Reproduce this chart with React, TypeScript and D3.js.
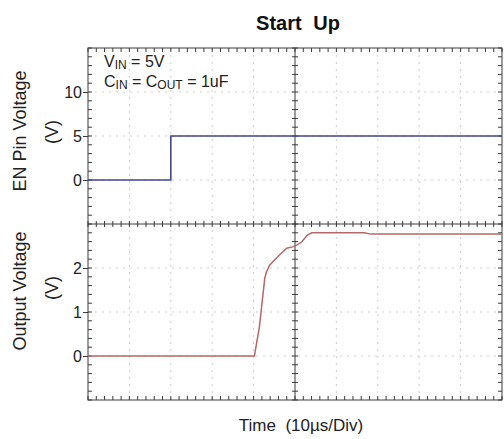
import { useEffect, useRef } from "react";
import * as d3 from "d3";

// EN pin step (µs, V)
const enTime = [0, 20, 20, 100];
const enVolt = [0, 0, 5, 5];

// output voltage trace (µs, V)
const outTime = [0, 40.2, 41.4, 42.7, 43.1, 43.9, 46.3, 48.0, 49.4, 50.4, 51.6, 53.0, 54.0, 66.7, 68.4, 100];
const outVolt = [0, 0, 0.66, 1.77, 1.91, 2.07, 2.3, 2.45, 2.48, 2.52, 2.59, 2.75, 2.8, 2.8, 2.77, 2.77];

const enTicks = [0, 5, 10];
const outTicks = [0, 1, 2];

const FONT = "'Liberation Sans', Arial, sans-serif";

export default function App() {
  const ref = useRef<SVGSVGElement>(null);

  useEffect(() => {
    const el = ref.current;
    if (!el) return;
    const W = 504;
    const H = 439;
    const L = 88, R = 502, T = 48, B = 400;
    const MID = (T + B) / 2;

    const svg = d3.select(el);
    svg.selectAll("*").remove();
    svg.attr("viewBox", `0 0 ${W} ${H}`);

    const x = d3.scaleLinear().domain([0, 100]).range([L, R]);
    const yEn = d3.scaleLinear().domain([-5, 15]).range([MID, T]);
    const yOut = d3.scaleLinear().domain([-1, 3]).range([B, MID]);

    const divX = d3.range(0, 101, 10);
    const minorX = d3.range(0, 100.01, 2);
    const divY = d3.range(0, 9).map((i) => T + (i * (B - T)) / 8);
    const minorY = d3.range(0, 41).map((i) => T + (i * (B - T)) / 40);
    const cx = x(50);

    // grid
    const grid = svg.append("g").attr("stroke", "#cfcfcf").attr("stroke-width", 1).attr("stroke-dasharray", "2,5");
    divX.slice(1, -1).filter((d) => d !== 50).forEach((d) => {
      grid.append("line").attr("x1", x(d)).attr("x2", x(d)).attr("y1", T).attr("y2", B);
    });
    divY.slice(1, -1).filter((_, i) => i !== 3).forEach((yy) => {
      grid.append("line").attr("x1", L).attr("x2", R).attr("y1", yy).attr("y2", yy);
    });

    // frame and crosshair
    const ax = svg.append("g").attr("stroke", "#3a3a3a").attr("stroke-width", 1);
    ax.append("rect").attr("x", L).attr("y", T).attr("width", R - L).attr("height", B - T).attr("fill", "none");
    ax.append("line").attr("x1", cx).attr("x2", cx).attr("y1", T).attr("y2", B);
    ax.append("line").attr("x1", L).attr("x2", R).attr("y1", MID).attr("y2", MID);

    minorX.forEach((d) => {
      const xx = x(d);
      ax.append("line").attr("x1", xx).attr("x2", xx).attr("y1", T).attr("y2", T + 4);
      ax.append("line").attr("x1", xx).attr("x2", xx).attr("y1", B).attr("y2", B - 4);
      ax.append("line").attr("x1", xx).attr("x2", xx).attr("y1", MID - 3).attr("y2", MID + 3);
    });
    minorY.forEach((yy) => {
      ax.append("line").attr("x1", L).attr("x2", L + 4).attr("y1", yy).attr("y2", yy);
      ax.append("line").attr("x1", R).attr("x2", R - 4).attr("y1", yy).attr("y2", yy);
      ax.append("line").attr("x1", cx - 3).attr("x2", cx + 3).attr("y1", yy).attr("y2", yy);
    });

    // y axes
    const styleAxis = (g: d3.Selection<SVGGElement, unknown, null, undefined>) => {
      g.select(".domain").remove();
      g.selectAll(".tick line").attr("stroke", "#3a3a3a");
      g.selectAll(".tick text").attr("fill", "#222").style("font-size", "16px").style("font-family", FONT);
    };
    svg.append("g").attr("transform", `translate(${L},0)`)
      .call(d3.axisLeft(yEn).tickValues(enTicks).tickSize(5).tickPadding(1).tickFormat(d3.format("d")))
      .call(styleAxis);
    svg.append("g").attr("transform", `translate(${L},0)`)
      .call(d3.axisLeft(yOut).tickValues(outTicks).tickSize(5).tickPadding(1).tickFormat(d3.format("d")))
      .call(styleAxis);

    // traces
    const enLine = d3.line<number>().x((_, i) => x(enTime[i])).y((d) => yEn(d));
    svg.append("path").datum(enVolt).attr("d", enLine).attr("fill", "none")
      .attr("stroke", "#42468f").attr("stroke-width", 1.6);

    const outLine = d3.line<number>().x((_, i) => x(outTime[i])).y((d) => yOut(d));
    svg.append("path").datum(outVolt).attr("d", outLine).attr("fill", "none")
      .attr("stroke", "#b56868").attr("stroke-width", 1.5);

    // texts
    svg.append("text").attr("x", 298).attr("y", 30).attr("text-anchor", "middle")
      .style("font-family", FONT).style("font-size", "20px").style("font-weight", "bold")
      .style("word-spacing", "6px").attr("fill", "#111").text("Start Up");

    const ann = svg.append("g").style("font-family", FONT).attr("fill", "#222");
    const t1 = ann.append("text").attr("x", 104).attr("y", 67).style("font-size", "16px");
    t1.append("tspan").text("V");
    t1.append("tspan").attr("dy", 2).style("font-size", "12px").text("IN");
    t1.append("tspan").attr("dy", -2).text(" = 5V");
    const t2 = ann.append("text").attr("x", 104).attr("y", 87).style("font-size", "16px");
    t2.append("tspan").text("C");
    t2.append("tspan").attr("dy", 2).style("font-size", "12px").text("IN");
    t2.append("tspan").attr("dy", -2).text(" = C");
    t2.append("tspan").attr("dy", 2).style("font-size", "12px").text("OUT");
    t2.append("tspan").attr("dy", -2).text(" = 1uF");

    const vlab = (txt: string, px: number, py: number) =>
      svg.append("text").attr("transform", `translate(${px},${py}) rotate(-90)`)
        .attr("text-anchor", "middle").attr("dominant-baseline", "central")
        .style("font-family", FONT).style("font-size", "18px").attr("fill", "#222").text(txt);
    vlab("EN Pin Voltage", 20, 131);
    vlab("(V)", 52, 132);
    vlab("Output Voltage", 20, 291);
    vlab("(V)", 52, 288);

    svg.append("text").attr("x", 301).attr("y", 431).attr("text-anchor", "middle")
      .style("font-family", FONT).style("font-size", "17px").attr("fill", "#222")
      .style("white-space", "pre").text("Time  (10µs/Div)");
  }, []);

  return (
    <svg ref={ref} width={504} height={439}
      style={{ position: "absolute", left: 0, top: 0, background: "#fff" }} />
  );
}
